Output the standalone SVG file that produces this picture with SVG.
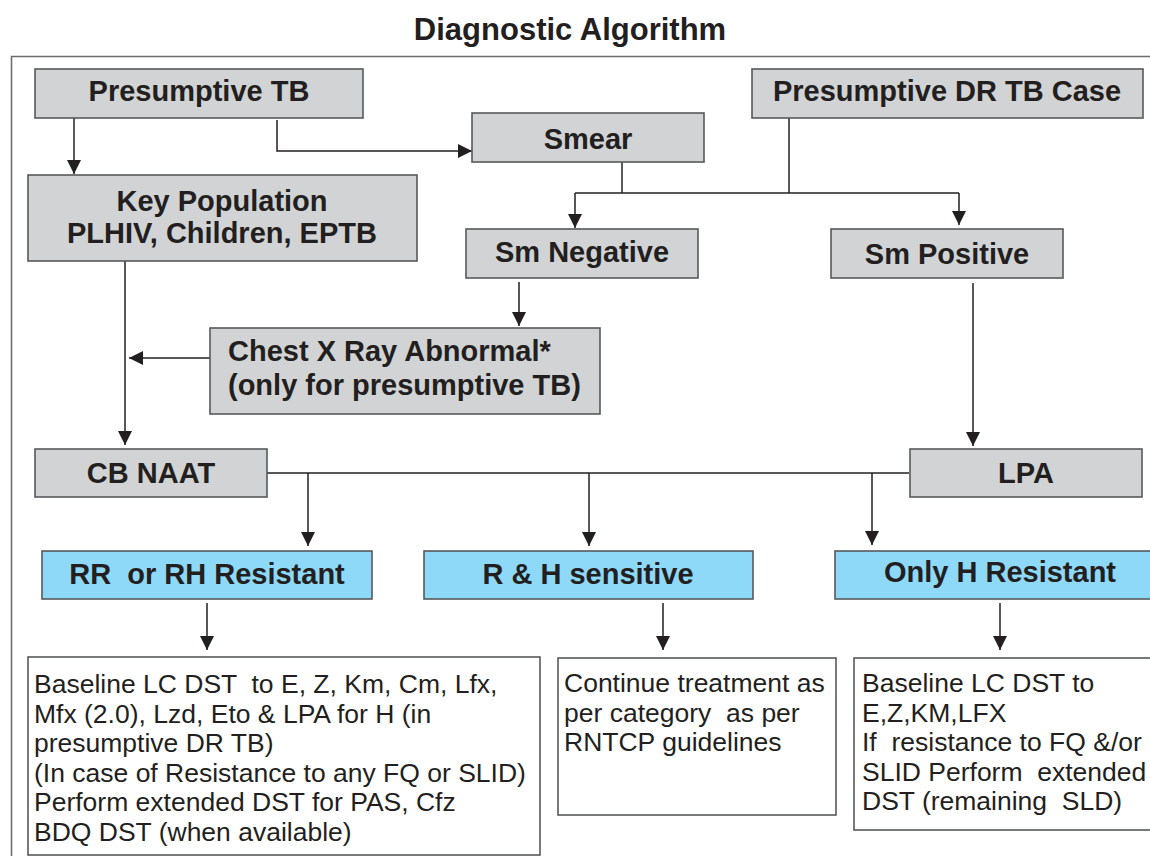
<svg xmlns="http://www.w3.org/2000/svg" width="1150" height="856" viewBox="0 0 1150 856">
<defs>
<style>
.g{fill:#d1d3d4;stroke:#58595b;stroke-width:1.6}
.b{fill:#8ed8f8;stroke:#58595b;stroke-width:1.6}
.w{fill:#ffffff;stroke:#58595b;stroke-width:1.6}
.t{font-family:"Liberation Sans",Arial,sans-serif;font-weight:bold;font-size:29px;fill:#231f20;text-anchor:middle}
.r{font-family:"Liberation Sans",Arial,sans-serif;font-size:26.5px;fill:#231f20;white-space:pre}
.c{fill:none;stroke:#231f20;stroke-width:1.5}
.a{marker-end:url(#ah)}
</style>
<marker id="ah" markerUnits="userSpaceOnUse" markerWidth="14" markerHeight="14" refX="14" refY="7" orient="auto">
<path d="M0,0 L14,7 L0,14 z" fill="#231f20"/>
</marker>
</defs>
<rect width="1150" height="856" fill="#ffffff"/>
<text x="570" y="40" class="t" style="font-size:31px">Diagnostic Algorithm</text>
<path d="M11.5,856 V56.5 H1152" fill="none" stroke="#6d6e70" stroke-width="1.6"/>

<g id="connectors">
<path class="c a" d="M74,118 V174"/>
<path class="c a" d="M277,120 V151 H472"/>
<path class="c" d="M622,162 V193"/>
<path class="c" d="M789,118 V193"/>
<path class="c" d="M575,193 H959"/>
<path class="c a" d="M575,193 V228"/>
<path class="c a" d="M959,193 V225"/>
<path class="c a" d="M519,282 V326"/>
<path class="c a" d="M210,358 H129"/>
<path class="c a" d="M125,261 V445"/>
<path class="c a" d="M973,283 V446"/>
<path class="c" d="M267,473 H909"/>
<path class="c a" d="M308,473 V546"/>
<path class="c a" d="M589,473 V546"/>
<path class="c a" d="M872,473 V545"/>
<path class="c a" d="M207,603 V650"/>
<path class="c a" d="M663,603 V650"/>
<path class="c a" d="M1000,603 V650"/>
</g>

<g id="presumptive-tb">
<rect class="g" x="35" y="69" width="328" height="49"/>
<text class="t" x="199" y="101">Presumptive TB</text>
</g>
<g id="smear">
<rect class="g" x="472" y="113" width="232" height="49"/>
<text class="t" x="588" y="149">Smear</text>
</g>
<g id="presumptive-dr-tb">
<rect class="g" x="752" y="69" width="391" height="49"/>
<text class="t" x="947" y="101">Presumptive DR TB Case</text>
</g>
<g id="key-population">
<rect class="g" x="28" y="175" width="389" height="86"/>
<text class="t" x="222" y="211">Key Population</text>
<text class="t" x="222" y="243">PLHIV, Children, EPTB</text>
</g>
<g id="sm-negative">
<rect class="g" x="466" y="229" width="232" height="49"/>
<text class="t" x="582" y="262">Sm Negative</text>
</g>
<g id="sm-positive">
<rect class="g" x="831" y="229" width="232" height="49"/>
<text class="t" x="947" y="264">Sm Positive</text>
</g>
<g id="chest-x-ray">
<rect class="g" x="210" y="328" width="390" height="86"/>
<text class="t" x="228" y="361" style="text-anchor:start">Chest X Ray Abnormal*</text>
<text class="t" x="228" y="395" style="text-anchor:start">(only for presumptive TB)</text>
</g>
<g id="cb-naat">
<rect class="g" x="35" y="449" width="232" height="48"/>
<text class="t" x="151" y="483">CB NAAT</text>
</g>
<g id="lpa">
<rect class="g" x="910" y="449" width="232" height="48"/>
<text class="t" x="1026" y="483">LPA</text>
</g>
<g id="rr-rh-resistant">
<rect class="b" x="42" y="551" width="330" height="48"/>
<text class="t" x="207" y="584" style="white-space:pre">RR  or RH Resistant</text>
</g>
<g id="rh-sensitive">
<rect class="b" x="424" y="551" width="329" height="48"/>
<text class="t" x="588" y="584">R &amp; H sensitive</text>
</g>
<g id="only-h-resistant">
<rect class="b" x="835" y="551" width="320" height="48"/>
<text class="t" x="1000" y="582">Only H Resistant</text>
</g>
<g id="box-rr">
<rect class="w" x="28" y="657" width="512" height="198"/>
<text class="r" x="34" y="693">Baseline LC DST  to E, Z, Km, Cm, Lfx,</text>
<text class="r" x="34" y="722.5">Mfx (2.0), Lzd, Eto &amp; LPA for H (in</text>
<text class="r" x="34" y="752">presumptive DR TB)</text>
<text class="r" x="34" y="781.5">(In case of Resistance to any FQ or SLID)</text>
<text class="r" x="34" y="811">Perform extended DST for PAS, Cfz</text>
<text class="r" x="34" y="840.5">BDQ DST (when available)</text>
</g>
<g id="box-sensitive">
<rect class="w" x="558" y="658" width="278" height="157"/>
<text class="r" x="564" y="692">Continue treatment as</text>
<text class="r" x="564" y="721.5">per category  as per</text>
<text class="r" x="564" y="751">RNTCP guidelines</text>
</g>
<g id="box-h">
<rect class="w" x="854" y="658" width="300" height="172"/>
<text class="r" x="862" y="692">Baseline LC DST to</text>
<text class="r" x="862" y="721.5">E,Z,KM,LFX</text>
<text class="r" x="862" y="751">If  resistance to FQ &amp;/or</text>
<text class="r" x="862" y="780.5">SLID Perform  extended</text>
<text class="r" x="862" y="810">DST (remaining  SLD)</text>
</g>
</svg>
